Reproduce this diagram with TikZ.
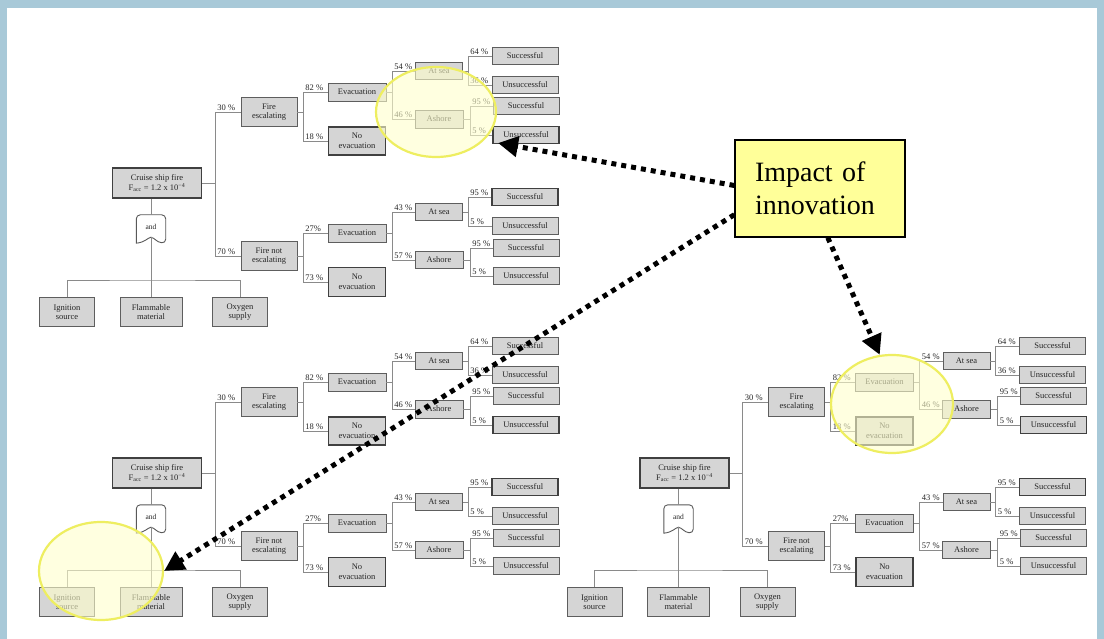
\documentclass[tikz,border=0pt]{standalone}
\usepackage{fontspec}
\setmainfont{Liberation Serif}
\usetikzlibrary{arrows.meta,shapes.geometric}

\definecolor{frameblue}{HTML}{A8C9D8}
\definecolor{boxfill}{HTML}{D5D5D5}
\definecolor{boxline}{HTML}{5E5E5E}
\definecolor{wireline}{HTML}{8A8A8A}
\definecolor{notefill}{HTML}{FFFF99}
\definecolor{ringline}{HTML}{EEEE60}
\definecolor{ringfill}{HTML}{FFFFCC}

\tikzset{
  evbox/.style 2 args={draw=boxline, fill=boxfill, line width=0.9pt, text=black!85,
    font=\fontsize{8.5}{9.5}\selectfont, align=center, inner sep=0pt,
    minimum width=#1, minimum height=#2},
  heavy/.style={draw=black!75, line width=1.3pt},
  wire/.style={draw=wireline, line width=0.9pt},
  pct/.style={font=\fontsize{8.5}{9}\selectfont, text=black!85, inner sep=0.5pt,
    anchor=south west, xshift=1.5pt},
  gatebox/.style={minimum width=29pt, minimum height=28pt, inner sep=0pt},
  gateline/.style={draw=black!65, line width=0.9pt, fill=white},
  gatetext/.style={font=\fontsize{7.5}{8}\selectfont, text=black!85, inner sep=0pt},
  ring/.style={ellipse, draw=ringline, line width=2.2pt, fill=ringfill, fill opacity=0.6,
    inner sep=0pt},
  note/.style={draw=black, line width=1.2pt, fill=notefill, align=left,
    font=\fontsize{28}{33}\selectfont, text width=130pt, inner xsep=20pt,
    minimum height=97pt},
  hint/.style={draw=black, line width=5pt, dash pattern=on 5pt off 5pt,
    -{Triangle[length=20pt,width=20pt]}}
}

% parent box, x of the fork, upper child, lower child, upper share, lower share
\newcommand\branchpair[6]{%
  \coordinate (#1-fx) at (#2,0);
  \coordinate (#1-f) at (#1.east -| #1-fx);
  \draw[wire] (#1.east) -- (#1-f);
  \draw[wire] (#1-f) |- node[pct] (#3-p) {#5} (#3.west);
  \draw[wire] (#1-f) |- node[pct] (#4-p) {#6} (#4.west);
}

% one fault tree with its event tree; #1 is the node name prefix
\newcommand\firetree[1]{%
  \node[evbox={89pt}{30pt}, heavy] (#1root) at (157,473)
    {Cruise ship fire\\F\textsubscript{acc} = 1.2 x 10\textsuperscript{\char"2212 4}};
  \node[gatebox] (#1gate) at (151,519) {};
  \draw[gateline] (#1gate.south west)
    [rounded corners=4pt] -- (#1gate.north west) -- (#1gate.north east) -- (#1gate.south east)
    [sharp corners] .. controls ([xshift=-9pt,yshift=1pt]#1gate.south east)
      and ([xshift=4pt,yshift=5pt]#1gate.south) .. ([yshift=6pt]#1gate.south)
    .. controls ([xshift=-4pt,yshift=5pt]#1gate.south)
      and ([xshift=9pt,yshift=1pt]#1gate.south west) .. (#1gate.south west) -- cycle;
  \node[gatetext] (#1and) at ([yshift=2pt]#1gate.center) {and};
  \node[evbox={55pt}{29pt}] (#1ign) at (67,602) {Ignition\\source};
  \node[evbox={62pt}{29pt}] (#1flam) at (151,602) {Flammable\\material};
  \node[evbox={55pt}{29pt}] (#1oxy) at (240,602) {Oxygen\\supply};
  \coordinate (#1bus) at (151,570);
  \draw[wire] (#1root.south -| #1gate.north) -- (#1gate.north);
  \draw[wire] ([yshift=6pt]#1gate.south) -- (#1flam.north);
  \draw[wire] (#1ign.north) |- (#1bus) -| (#1oxy.north);
  % event tree
  \node[evbox={56pt}{29pt}] (#1fe) at (269,402) {Fire\\escalating};
  \node[evbox={56pt}{29pt}] (#1fne) at (269,546) {Fire not\\escalating};
  \node[evbox={58pt}{18pt}] (#1eva) at (357,382) {Evacuation};
  \node[evbox={57pt}{28pt}, heavy] (#1neva) at (357,431) {No\\evacuation};
  \node[evbox={58pt}{18pt}] (#1evb) at (357,523) {Evacuation};
  \node[evbox={57pt}{29pt}, heavy] (#1nevb) at (357,572) {No\\evacuation};
  \node[evbox={47pt}{17pt}] (#1seaa) at (439,361) {At sea};
  \node[evbox={48pt}{18pt}] (#1asha) at (439,409) {Ashore};
  \node[evbox={47pt}{17pt}] (#1seab) at (439,502) {At sea};
  \node[evbox={48pt}{17pt}] (#1ashb) at (439,550) {Ashore};
  \node[evbox={66pt}{17pt}] (#1sa1) at (525,346) {Successful};
  \node[evbox={66pt}{17pt}] (#1ua1) at (525,375) {Unsuccessful};
  \node[evbox={66pt}{17pt}] (#1sa2) at (526,396) {Successful};
  \node[evbox={66pt}{17pt}, heavy] (#1ua2) at (526,425) {Unsuccessful};
  \node[evbox={66pt}{17pt}, heavy] (#1sb1) at (525,487) {Successful};
  \node[evbox={66pt}{17pt}] (#1ub1) at (525,516) {Unsuccessful};
  \node[evbox={66pt}{17pt}] (#1sb2) at (526,538) {Successful};
  \node[evbox={66pt}{17pt}] (#1ub2) at (526,566) {Unsuccessful};
  \branchpair{#1root}{215}{#1fe}{#1fne}{30 \%}{70 \%}
  \branchpair{#1fe}{303}{#1eva}{#1neva}{82 \%}{18 \%}
  \branchpair{#1fne}{303}{#1evb}{#1nevb}{27\%}{73 \%}
  \branchpair{#1eva}{392}{#1seaa}{#1asha}{54 \%}{46 \%}
  \branchpair{#1evb}{392}{#1seab}{#1ashb}{43 \%}{57 \%}
  \branchpair{#1seaa}{468}{#1sa1}{#1ua1}{64 \%}{36 \%}
  \branchpair{#1asha}{470}{#1sa2}{#1ua2}{95 \%}{5 \%}
  \branchpair{#1seab}{468}{#1sb1}{#1ub1}{95 \%}{5 \%}
  \branchpair{#1ashb}{470}{#1sb2}{#1ub2}{95 \%}{5 \%}
}

\begin{document}
\begin{tikzpicture}[x=1pt, y=-1pt]
  \useasboundingbox (0,0) rectangle (1104,639);
  \fill[white] (0,0) rectangle (1104,639);
  % slide frame
  \fill[frameblue] (0,0) rectangle (1104,8);
  \fill[frameblue] (0,0) rectangle (7,639);
  \fill[frameblue] (1097,0) rectangle (1104,639);

  % the three trees
  \begin{scope}[shift={(0,-290)}]
    \firetree{t1}
  \end{scope}
  \begin{scope}
    \firetree{t2}
  \end{scope}
  \begin{scope}[shift={(527.5,0)}]
    \firetree{t3}
  \end{scope}

  % highlighted regions
  \node[ring, minimum width=120pt, minimum height=90pt] (ring1) at (436,112) {};
  \node[ring, minimum width=124pt, minimum height=98pt] (ring2) at (101,571) {};
  \node[ring, minimum width=122pt, minimum height=98pt] (ring3) at (892,404) {};

  % callout and its pointers
  \node[note] (note) at (820,188.5) {Impact of\\innovation};
  \coordinate (tip1) at (498,143);
  \draw[hint] (note.178) -- (tip1);
  \draw[hint] (note.197) -- (ring2.east);
  \draw[hint] (note.-81) -- (ring3.104);
\end{tikzpicture}
\end{document}
